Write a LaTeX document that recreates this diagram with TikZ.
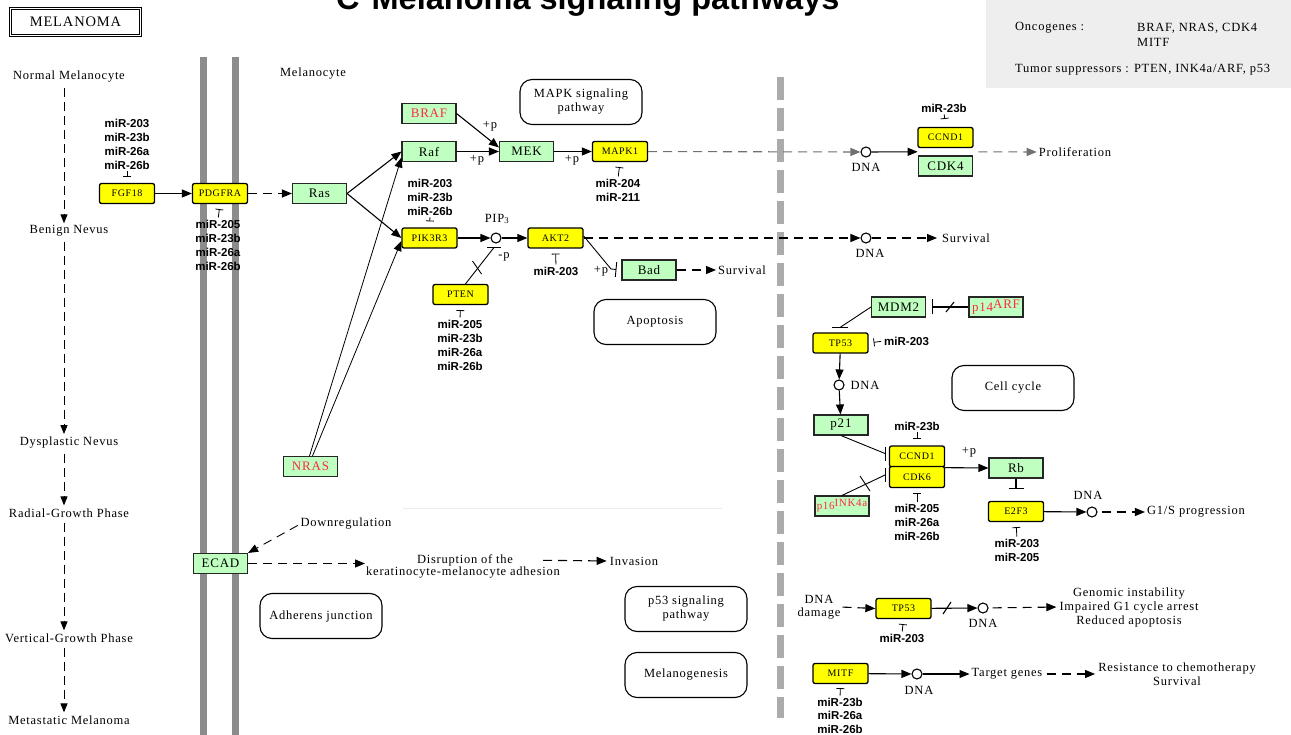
\documentclass[tikz,border=0pt]{standalone}
\usepackage{fontspec}
\setmainfont{Liberation Serif}
\newfontfamily\kegg[LetterSpace=6]{Liberation Serif}
\newfontfamily\arialf{Liberation Sans}
\usetikzlibrary{arrows.meta,calc}
\definecolor{kgreen}{HTML}{BFFFBF}
\definecolor{kyellow}{HTML}{FFFF00}
\definecolor{membr}{HTML}{8C8C8C}
\definecolor{sepgray}{HTML}{ABABAB}
\definecolor{boxgray}{HTML}{EEEEEE}
\definecolor{kred}{HTML}{FF2848}
\definecolor{dgray}{HTML}{707070}
\newcommand\kf[1]{\kegg\fontsize{#1}{#1}\selectfont}
\begin{document}
\begin{tikzpicture}[x=1pt,y=-1pt,
  gene/.style={draw=black!85, line width=1.1pt, fill=kgreen, minimum width=54pt, minimum height=20pt, inner sep=0pt, font=\kf{13}},
  ygene/.style={draw=black, line width=1.3pt, fill=kyellow, rounded corners=2pt, minimum width=55pt, minimum height=20pt, inner sep=0pt, font=\kf{10}},
  lbl/.style={font=\kegg\fontsize{12.5}{14}\selectfont, inner sep=0pt, align=center},
  mir/.style={font=\arialf\bfseries\fontsize{11.5}{14}\selectfont, inner sep=0pt, align=center, anchor=north},
  pwbox/.style={draw=black, line width=1.1pt, rounded corners=12pt, minimum width=122pt, minimum height=45pt, inner sep=0pt, align=center, font=\kegg\fontsize{12.5}{14}\selectfont},
  cpd/.style={circle, draw=black, fill=white, line width=1.1pt, minimum size=10pt, inner sep=0pt},
  conn/.style={line width=1.1pt, draw=black},
  act/.style={conn, -{Triangle[length=10pt,width=8pt]}},
  inh/.style={conn, -{Bar[width=15pt]}},
  mirinh/.style={line width=0.8pt, -{Bar[width=8pt]}},
  dsh/.style={dash pattern=on 9pt off 6pt},
  stage/.style={line width=1pt, dash pattern=on 9pt off 5pt, -{Triangle[length=9pt,width=7pt]}},
]
\useasboundingbox (0,0) rectangle (1291,735);
\clip (0,0) rectangle (1291,735);
\fill[white] (0,0) rectangle (1291,735);

% membranes and separators
\fill[membr] (200.3,57) rectangle (206.8,735);
\fill[membr] (232.3,57) rectangle (238.8,735);
\draw[sepgray, line width=7pt, dash pattern=on 23pt off 8pt] (780,77) -- (780,718);
\draw[black!8, line width=0.8pt] (403,508) -- (722,508);

% info box
\fill[boxgray] (986,0) rectangle (1291,88);
\node[lbl, anchor=west] (onc) at (1015,28) {Oncogenes :};
\node[lbl, anchor=west] (oncl) at (1137,28) {BRAF, NRAS, CDK4};
\node[lbl, anchor=west] (mitfl) at (1137,42) {MITF};
\node[lbl, anchor=west] (tsg) at (1015,70) {Tumor suppressors : PTEN, INK4a/ARF, p53};

% title
\node[font=\arialf\bfseries\fontsize{32.5}{32.5}\selectfont, anchor=base west, inner sep=0pt] (title) at (336,10) {C\hspace{12pt}Melanoma signaling pathways};

% MELANOMA box
\node[draw=black, line width=1pt, double, double distance=1.5pt, minimum width=130pt, minimum height=27pt, font=\kf{14.5}] (mel) at (75.5,22) {MELANOMA};

% stages
\node[lbl] (s1) at (69,77) {Normal Melanocyte};
\node[lbl] (s2) at (69,231) {Benign Nevus};
\node[lbl] (s3) at (69,443) {Dysplastic Nevus};
\node[lbl] (s4) at (69,513) {Radial-Growth Phase};
\node[lbl] (s5) at (69,638) {Vertical-Growth Phase};
\node[lbl] (s6) at (69,720) {Metastatic Melanoma};
\draw[stage, shorten <=5pt, shorten >=2pt] ([xshift=-5pt]s1.south) -- ([xshift=-5pt]s2.north);
\draw[stage, shorten <=5pt, shorten >=3pt] ([xshift=-5pt]s2.south) -- ([xshift=-5pt]s3.north);
\draw[stage, shorten <=5pt, shorten >=3pt] ([xshift=-5pt]s3.south) -- ([xshift=-5pt]s4.north);
\draw[stage, shorten <=5pt, shorten >=3pt] ([xshift=-5pt]s4.south) -- ([xshift=-5pt]s5.north);
\draw[stage, shorten <=5pt, shorten >=3pt] ([xshift=-5pt]s5.south) -- ([xshift=-5pt]s6.north);

% genes
\node[ygene] (FGF18) at (127,193.5) {FGF18};
\node[ygene] (PDGFRA) at (220,193.5) {PDGFRA};
\node[gene] (Ras) at (319.5,193.5) {Ras};
\node[gene, text=kred] (BRAF) at (429,113.5) {BRAF};
\node[gene] (Raf) at (429,151.5) {Raf};
\node[gene] (MEK) at (526.5,151.5) {MEK};
\node[ygene] (MAPK1) at (620,151.5) {MAPK1};
\node[ygene] (PIK3R3) at (429.5,238) {PIK3R3};
\node[cpd] (PIP3) at (496,238) {};
\node[ygene] (AKT2) at (555.5,238) {AKT2};
\node[ygene] (PTEN) at (460.5,294.5) {PTEN};
\node[gene] (Bad) at (649,270) {Bad};
\node[gene, text=kred] (NRAS) at (310.5,466.5) {NRAS};
\node[gene] (ECAD) at (220.5,563.5) {ECAD};
\node[cpd] (DNA1) at (866,152) {};
\node[ygene] (CCND1a) at (945.5,137.5) {CCND1};
\node[gene] (CDK4) at (945.5,166) {CDK4};
\node[cpd] (DNA2) at (866,238) {};
\node[gene] (MDM2) at (898.5,307) {MDM2};
\node[gene, text=kred] (p14) at (996,307) {p14\raisebox{3pt}{ARF}};
\node[ygene] (TP53a) at (840.5,343) {TP53};
\node[cpd] (DNA3) at (839,385) {};
\node[gene] (p21) at (841,425) {p21};
\node[ygene, minimum height=21pt] (CCND1b) at (917,456.5) {CCND1};
\node[ygene, minimum height=21pt] (CDK6) at (917,477) {CDK6};
\node[gene, text=kred, font=\kf{11}] (p16) at (842,506) {p16\raisebox{3pt}{INK4a}};
\node[gene] (Rb) at (1016,468) {Rb};
\node[ygene] (E2F3) at (1016,511.5) {E2F3};
\node[cpd] (DNA4) at (1092,512) {};
\node[ygene] (TP53b) at (903.5,608.5) {TP53};
\node[cpd] (DNA5) at (983,608) {};
\node[ygene] (MITF) at (840.5,673.5) {MITF};
\node[cpd] (DNA6) at (917,674) {};

% pathway boxes and labels
\node[lbl] (melc) at (313,74) {Melanocyte};
\node[pwbox] (mapk) at (581,102) {MAPK signaling\\pathway};
\node[pwbox] (apop) at (655,322) {Apoptosis};
\node[pwbox] (ccyc) at (1013,388) {Cell cycle};
\node[pwbox] (adh) at (321,616) {Adherens junction};
\node[pwbox] (p53p) at (686,609) {p53 signaling\\pathway};
\node[pwbox] (mlg) at (686,675) {Melanogenesis};

\node[lbl] (dnal1) at (866,167) {DNA};
\node[lbl] (dnal2) at (870,253) {DNA};
\node[lbl] (dnal3) at (865,385) {DNA};
\node[lbl] (dnal4) at (1088,495) {DNA};
\node[lbl] (dnal5) at (983,623) {DNA};
\node[lbl] (dnal6) at (919,690) {DNA};
\node[lbl] (prolif) at (1075,152) {Proliferation};
\node[lbl] (surv1) at (966,238) {Survival};
\node[lbl] (surv2) at (742,270) {Survival};
\node[lbl] (pip) at (497,219) {PIP\textsubscript{3}};
\node[lbl] (pp1) at (490,126) {+p};
\node[lbl] (pp2) at (477,160) {+p};
\node[lbl] (pp3) at (572,160) {+p};
\node[lbl] (pp4) at (601,271) {+p};
\node[lbl] (mp) at (504,257) {-p};
\node[lbl] (pp5) at (969,452) {+p};
\node[lbl] (g1s) at (1196,512) {G1/S progression};
\node[lbl] (dnad) at (819,607) {DNA\\[-1.5pt]damage};
\node[lbl] (geno) at (1129,607) {Genomic instability\\Impaired G1 cycle arrest\\Reduced apoptosis};
\node[lbl] (tgt) at (1007,674) {Target genes};
\node[lbl] (resist) at (1177,674) {Resistance to chemotherapy\\Survival};
\node[lbl] (down) at (346,524) {Downregulation};
\node[lbl] (disr1) at (465,560) {Disruption of the};
\node[lbl] (disr2) at (463,573) {keratinocyte-melanocyte adhesion};
\node[lbl] (inv) at (634,561) {Invasion};

% miRNA labels
\node[mir] (mFGF) at (127,118.5) {miR-203\\miR-23b\\miR-26a\\miR-26b};
\node[mir] (mPDG) at (218,219.5) {miR-205\\miR-23b\\miR-26a\\miR-26b};
\node[mir] (mPIK) at (430,178.5) {miR-203\\miR-23b\\miR-26b};
\node[mir] (mMAPK) at (618,178.5) {miR-204\\miR-211};
\node[mir] (mAKT) at (556,266.5) {miR-203};
\node[mir] (mPTEN) at (460,319.5) {miR-205\\miR-23b\\miR-26a\\miR-26b};
\node[mir] (mCCa) at (944,103.5) {miR-23b};
\node[mir, anchor=west] (mTPa) at (884,341) {miR-203};
\node[mir] (mCCb) at (917,421.5) {miR-23b};
\node[mir] (mCDK6) at (917,503.5) {miR-205\\miR-26a\\miR-26b};
\node[mir] (mE2F) at (1017,538.5) {miR-203\\miR-205};
\node[mir] (mTPb) at (902,633.5) {miR-203};
\node[mir, font=\arialf\bfseries\fontsize{11.5}{13.5}\selectfont] (mMITF) at (840,697.5) {miR-23b\\miR-26a\\miR-26b};

% miRNA inhibition marks
\draw[mirinh, shorten <=2pt, shorten >=6pt] (mFGF.south) -- (FGF18.north);
\draw[mirinh, shorten <=2pt, shorten >=6pt] (mPIK.south) -- (PIK3R3.north);
\draw[mirinh, shorten <=2pt, shorten >=8pt] (mCCa.south) -- (CCND1a.north);
\draw[mirinh, shorten <=2pt, shorten >=7pt] (mCCb.south) -- (CCND1b.north);
\draw[mirinh, shorten <=2pt, shorten >=5pt] (mPDG.north) -- (PDGFRA.south);
\draw[mirinh, shorten <=2pt, shorten >=5pt] (mPTEN.north) -- (PTEN.south);
\draw[mirinh, shorten <=2pt, shorten >=5pt] (mMAPK.north) -- (MAPK1.south);
\draw[mirinh, shorten <=2pt, shorten >=5pt] (mAKT.north) -- (AKT2.south);
\draw[mirinh, shorten <=2pt, shorten >=5pt] (mCDK6.north) -- (CDK6.south);
\draw[mirinh, shorten <=2pt, shorten >=5pt] (mE2F.north) -- (E2F3.south);
\draw[mirinh, shorten <=2pt, shorten >=5pt] (mTPb.north) -- (TP53b.south);
\draw[mirinh, shorten <=2pt, shorten >=4pt] (mMITF.north) -- (MITF.south);
\draw[mirinh, shorten <=3pt, shorten >=5pt] (mTPa.west) -- (TP53a.east);

% main connectors
\draw[act] (FGF18) -- (PDGFRA);
\draw[act, dsh] (PDGFRA) -- (Ras);
\draw[act] (Ras.east) -- (Raf.west);
\draw[act] (Ras.east) -- (PIK3R3.west);
\draw[act, line width=0.8pt] ([xshift=-1pt]NRAS.north) -- ([yshift=-6pt]Raf.west);
\draw[act, line width=0.8pt] ([xshift=2pt]NRAS.north) -- ([yshift=-3pt]PIK3R3.west);
\draw[act] (Raf) -- (MEK);
\draw[act] (BRAF.east) -- ([yshift=4pt]MEK.west);
\draw[act] (MEK) -- (MAPK1);
\draw[act, dsh, dgray] (MAPK1) -- (DNA1);
\coordinate (ccdl) at ($(CCND1a.south west)!0.5!(CDK4.north west)$);
\coordinate (ccdr) at ($(CCND1a.south east)!0.5!(CDK4.north east)$);
\draw[act] (DNA1) -- (ccdl);
\draw[act, dsh, dgray, shorten <=5pt, shorten >=2pt] (ccdr) -- (prolif.west);

\draw[act] (PIK3R3) -- (PIP3);
\draw[act] (PIP3) -- (AKT2);
\draw[act, dsh] (AKT2) -- (DNA2);
\draw[act, dsh, shorten >=5pt] (DNA2) -- (surv1.west);
\coordinate (akb) at (611,269);
\draw[inh, line width=0.9pt, shorten >=5pt] ([yshift=2pt]AKT2.east) -- (akb) -- (Bad.west);
\draw[act, dsh, shorten >=2pt] (Bad) -- (surv2.west);

\coordinate (ptb) at (494,247.5);
\draw[conn, line width=0.9pt] ([xshift=5pt]PTEN.north) -- (ptb);
\draw[conn, line width=0.9pt] ([xshift=-7pt]ptb) -- ([xshift=7pt]ptb);
\draw[conn, line width=0.9pt] (472.5,261) -- (481.5,274);

% p53 / cell cycle
\draw[inh, shorten >=6pt] (p14) -- (MDM2);
\draw[conn] (946,312) -- (954,302);
\coordinate (mdb) at (840,327.5);
\draw[conn, line width=0.9pt] (MDM2.west) -- (mdb);
\draw[conn, line width=0.9pt] ([xshift=-8pt]mdb) -- ([xshift=8pt]mdb);
\draw[act] (TP53a) -- (DNA3);
\draw[act] (DNA3) -- (p21);
\coordinate (cb1) at (885,453.5);
\draw[conn, line width=0.9pt] (p21.south) -- (cb1);
\draw[conn, line width=0.9pt] ([yshift=7pt]cb1) -- ([yshift=-7pt]cb1);
\coordinate (cb2) at (885,475);
\draw[conn, line width=0.9pt] (p16.north) -- (cb2);
\draw[conn, line width=0.9pt] ([yshift=7pt]cb2) -- ([yshift=-7pt]cb2);
\draw[conn, line width=0.9pt] (860,476) -- (870,491);
\draw[act] (CCND1b.south east) -- (Rb.west);
\draw[inh, shorten >=12pt] (Rb) -- (E2F3);
\draw[act] (E2F3) -- (DNA4);
\draw[act, dsh, shorten <=4pt, shorten >=2pt] (DNA4) -- (g1s.west);

\draw[act, dsh, shorten <=2pt] (dnad.east) -- (TP53b.west);
\draw[act] (TP53b) -- (DNA5);
\draw[conn] (943,614) -- (951,602);
\draw[act, dsh, shorten <=4pt, shorten >=3pt] (DNA5) -- (geno.west);
\draw[act] (MITF) -- (DNA6);
\draw[act, shorten >=2pt] (DNA6) -- (tgt.west);
\draw[act, dsh, shorten <=4pt, shorten >=3pt] (tgt.east) -- (resist.west);

% ECAD
\draw[act, dsh, line width=0.9pt, shorten <=3pt] (down.west) -- (ECAD.north east);
\draw[act, dsh, shorten >=1pt] (ECAD.east) -- (ECAD.east -| disr2.west);
\draw[act, dsh, shorten <=30pt, shorten >=3pt] (disr1.east) -- (inv.west);
\end{tikzpicture}
\end{document}
